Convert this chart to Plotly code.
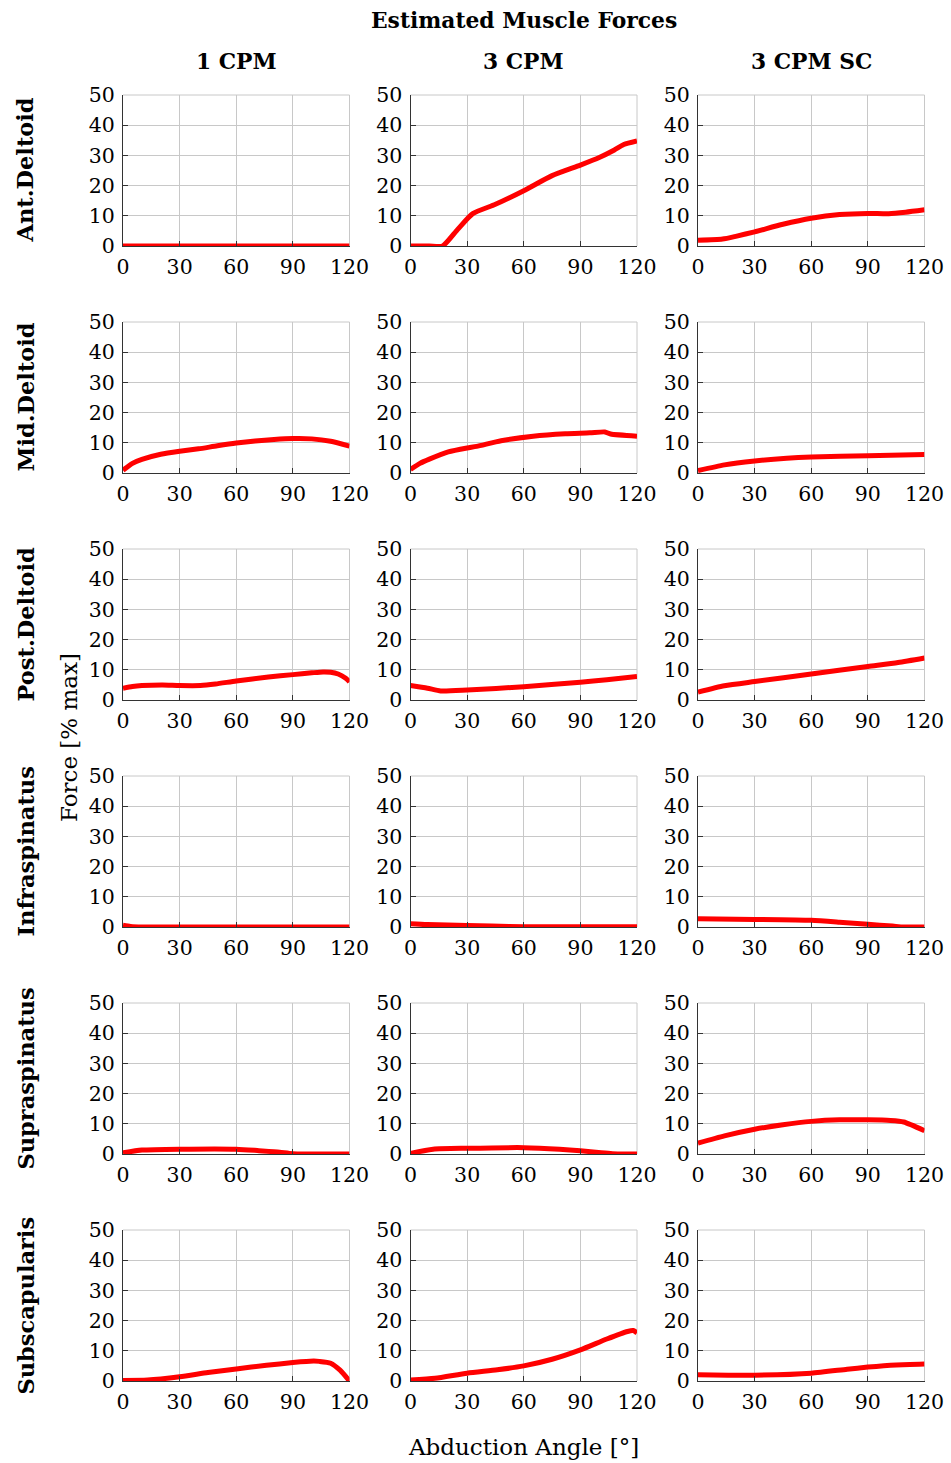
import plotly.graph_objects as go

# Column (model) and row (muscle) names
MODELS = ["1 CPM", "3 CPM", "3 CPM SC"]
MUSCLES = ["Ant.Deltoid", "Mid.Deltoid", "Post.Deltoid",
           "Infraspinatus", "Supraspinatus", "Subscapularis"]

X_TICKS = [0, 30, 60, 90, 120]
Y_TICKS = [0, 10, 20, 30, 40, 50]

# Anterior deltoid
ANT_1CPM_X = [0, 30, 60, 90, 120]
ANT_1CPM_Y = [0, 0, 0, 0, 0]
ANT_3CPM_X = [0, 10, 17, 25, 33, 45, 60, 75, 90, 100, 108, 113, 120]
ANT_3CPM_Y = [0, 0, 0, 5.5, 10.7, 13.8, 18.3, 23.3, 26.8, 29.3, 31.8, 33.6, 34.8]
ANT_SC_X = [0, 13, 20, 30, 45, 60, 75, 90, 101, 110, 120]
ANT_SC_Y = [1.9, 2.3, 3.2, 4.7, 7.2, 9.2, 10.4, 10.8, 10.7, 11.2, 12.0]

# Middle deltoid
MID_1CPM_X = [0, 5, 10, 20, 30, 40, 50, 60, 70, 80, 90, 100, 110, 120]
MID_1CPM_Y = [0.9, 3.2, 4.5, 6.2, 7.2, 8.0, 9.0, 9.9, 10.6, 11.1, 11.4, 11.3, 10.5, 8.9]
MID_3CPM_X = [0, 5, 10, 20, 30, 35, 48, 65, 82, 95, 103, 106, 120]
MID_3CPM_Y = [1.2, 3.2, 4.6, 7.0, 8.3, 8.8, 10.7, 12.2, 13.0, 13.3, 13.6, 12.9, 12.2]
MID_SC_X = [0, 14, 30, 47, 60, 90, 120]
MID_SC_Y = [0.8, 2.7, 4.0, 4.9, 5.3, 5.7, 6.1]

# Posterior deltoid
POST_1CPM_X = [0, 5, 10, 21, 30, 41, 49, 60, 77, 90, 100, 106, 110, 114, 118, 120]
POST_1CPM_Y = [3.9, 4.5, 4.8, 5.0, 4.8, 4.8, 5.3, 6.3, 7.6, 8.4, 9.0, 9.3, 9.2, 8.6, 7.2, 6.0]
POST_3CPM_X = [0, 9, 16, 30, 60, 90, 104, 120]
POST_3CPM_Y = [4.8, 3.9, 3.0, 3.3, 4.4, 5.9, 6.7, 7.8]
POST_SC_X = [0, 14, 30, 60, 90, 106, 120]
POST_SC_Y = [2.6, 4.7, 6.1, 8.6, 11.1, 12.4, 13.9]

# Infraspinatus
INFRA_1CPM_X = [0, 4, 10, 120]
INFRA_1CPM_Y = [0.6, 0.2, 0, 0]
INFRA_3CPM_X = [0, 9, 30, 43, 60, 120]
INFRA_3CPM_Y = [1.1, 0.8, 0.5, 0.3, 0.1, 0.1]
INFRA_SC_X = [0, 30, 60, 75, 90, 103, 109, 120]
INFRA_SC_Y = [2.7, 2.5, 2.2, 1.6, 0.9, 0.3, 0, 0]

# Supraspinatus
SUPRA_1CPM_X = [0, 10, 30, 60, 72, 83, 90, 120]
SUPRA_1CPM_Y = [0.4, 1.3, 1.6, 1.6, 1.1, 0.6, 0.1, 0]
SUPRA_3CPM_X = [0, 12, 30, 60, 79, 90, 101, 107, 120]
SUPRA_3CPM_Y = [0.2, 1.6, 1.9, 2.1, 1.6, 1.1, 0.4, 0.1, 0]
SUPRA_SC_X = [0, 14, 30, 45, 60, 75, 90, 102, 109, 120]
SUPRA_SC_Y = [3.6, 6.0, 8.2, 9.7, 10.8, 11.3, 11.3, 11.1, 10.6, 7.7]

# Subscapularis
SUBSC_1CPM_X = [0, 13, 30, 45, 60, 76, 90, 101, 104, 110, 115, 120]
SUBSC_1CPM_Y = [0.2, 0.3, 1.4, 2.8, 4.0, 5.2, 6.1, 6.6, 6.5, 5.9, 3.6, 0]
SUBSC_3CPM_X = [0, 13, 30, 46, 60, 75, 90, 104, 115, 118, 120]
SUBSC_3CPM_Y = [0.3, 0.9, 2.6, 3.7, 5.0, 7.2, 10.3, 13.9, 16.4, 16.7, 15.9]
SUBSC_SC_X = [0, 16, 30, 60, 79, 90, 105, 120]
SUBSC_SC_Y = [2.1, 1.9, 1.9, 2.6, 3.9, 4.6, 5.3, 5.6]

SERIES = [
    [(ANT_1CPM_X, ANT_1CPM_Y), (ANT_3CPM_X, ANT_3CPM_Y), (ANT_SC_X, ANT_SC_Y)],
    [(MID_1CPM_X, MID_1CPM_Y), (MID_3CPM_X, MID_3CPM_Y), (MID_SC_X, MID_SC_Y)],
    [(POST_1CPM_X, POST_1CPM_Y), (POST_3CPM_X, POST_3CPM_Y), (POST_SC_X, POST_SC_Y)],
    [(INFRA_1CPM_X, INFRA_1CPM_Y), (INFRA_3CPM_X, INFRA_3CPM_Y), (INFRA_SC_X, INFRA_SC_Y)],
    [(SUPRA_1CPM_X, SUPRA_1CPM_Y), (SUPRA_3CPM_X, SUPRA_3CPM_Y), (SUPRA_SC_X, SUPRA_SC_Y)],
    [(SUBSC_1CPM_X, SUBSC_1CPM_Y), (SUBSC_3CPM_X, SUBSC_3CPM_Y), (SUBSC_SC_X, SUBSC_SC_Y)],
]

# Page geometry (pixels)
W, H = 951, 1463
COL_LEFT = [123, 410.5, 698]
PLOT_W = 226.5
ROW_TOP = [95, 322, 549, 776, 1003, 1230]
PLOT_H = 151

FONT = "DejaVu Serif"
GRID = "#c8c8c8"
AXIS = "#333333"

fig = go.Figure()
annotations = []
shapes = []

for r in range(6):
    for c in range(3):
        idx = r * 3 + c + 1
        xa = "xaxis" if idx == 1 else f"xaxis{idx}"
        ya = "yaxis" if idx == 1 else f"yaxis{idx}"
        xref = "x" if idx == 1 else f"x{idx}"
        yref = "y" if idx == 1 else f"y{idx}"
        x0 = COL_LEFT[c] / W
        x1 = (COL_LEFT[c] + PLOT_W) / W
        y1 = 1 - ROW_TOP[r] / H
        y0 = 1 - (ROW_TOP[r] + PLOT_H) / H
        fig.layout[xa] = dict(
            domain=[x0, x1], anchor=yref, range=[0, 120], automargin=False,
            tickvals=X_TICKS, ticks="inside", ticklen=5, tickcolor=AXIS,
            ticklabelstandoff=2,
            showgrid=True, gridcolor=GRID, gridwidth=1,
            showline=True, linecolor=AXIS, linewidth=1, zeroline=False,
            tickfont=dict(family=FONT, size=20.5, color="black"),
            fixedrange=True,
        )
        fig.layout[ya] = dict(
            domain=[y0, y1], anchor=xref, range=[0, 50], automargin=False,
            tickvals=Y_TICKS, ticks="inside", ticklen=5, tickcolor=AXIS,
            ticklabelstandoff=3,
            showgrid=True, gridcolor=GRID, gridwidth=1,
            showline=True, linecolor=AXIS, linewidth=1, zeroline=False,
            tickfont=dict(family=FONT, size=20.5, color="black"),
            fixedrange=True,
        )
        xs, ys = SERIES[r][c]
        fig.add_trace(go.Scatter(
            x=xs, y=ys, mode="lines", xaxis=xref, yaxis=yref,
            line=dict(color="#ff0000", width=5, shape="spline", smoothing=0.6),
            showlegend=False, hoverinfo="skip",
        ))
        # light frame on the top and right edges
        shapes.append(dict(type="line", xref=f"{xref} domain", yref=f"{yref} domain",
                           x0=0, x1=1, y0=1, y1=1, line=dict(color=GRID, width=1),
                           layer="below"))
        shapes.append(dict(type="line", xref=f"{xref} domain", yref=f"{yref} domain",
                           x0=1, x1=1, y0=0, y1=1, line=dict(color=GRID, width=1),
                           layer="below"))

# Row labels (muscle names)
for r, name in enumerate(MUSCLES):
    yc = 1 - (ROW_TOP[r] + PLOT_H / 2) / H
    annotations.append(dict(
        text=f"<b>{name}</b>", x=25 / W, y=yc, xref="paper", yref="paper",
        xanchor="center", yanchor="middle", textangle=-90, showarrow=False,
        font=dict(family=FONT, size=22.5, color="black"),
    ))

# Column titles (models)
for c, name in enumerate(MODELS):
    xc = (COL_LEFT[c] + PLOT_W / 2) / W
    annotations.append(dict(
        text=f"<b>{name}</b>", x=xc, y=1 - 61 / H, xref="paper", yref="paper",
        xanchor="center", yanchor="middle", showarrow=False,
        font=dict(family=FONT, size=21.8, color="black"),
    ))

# Overall title
annotations.append(dict(
    text="<b>Estimated Muscle Forces</b>", x=(COL_LEFT[0] + COL_LEFT[2] + PLOT_W) / 2 / W,
    y=1 - 21 / H, xref="paper", yref="paper", xanchor="center", yanchor="middle",
    showarrow=False, font=dict(family=FONT, size=21.8, color="black"),
))

# Shared axis titles
annotations.append(dict(
    text="Force [% max]", x=69 / W, y=1 - 738 / H, xref="paper", yref="paper",
    xanchor="center", yanchor="middle", textangle=-90, showarrow=False,
    font=dict(family=FONT, size=23, color="black"),
))
annotations.append(dict(
    text="Abduction Angle [°]", x=(COL_LEFT[0] + COL_LEFT[2] + PLOT_W) / 2 / W,
    y=1 - 1447 / H, xref="paper", yref="paper", xanchor="center", yanchor="middle",
    showarrow=False, font=dict(family=FONT, size=23, color="black"),
))

fig.update_layout(
    width=W, height=H, margin=dict(l=0, r=0, t=0, b=0, autoexpand=False),
    paper_bgcolor="white", plot_bgcolor="white",
    annotations=annotations, shapes=shapes,
    font=dict(family=FONT, color="black"),
)

fig.write_html("out.html")
